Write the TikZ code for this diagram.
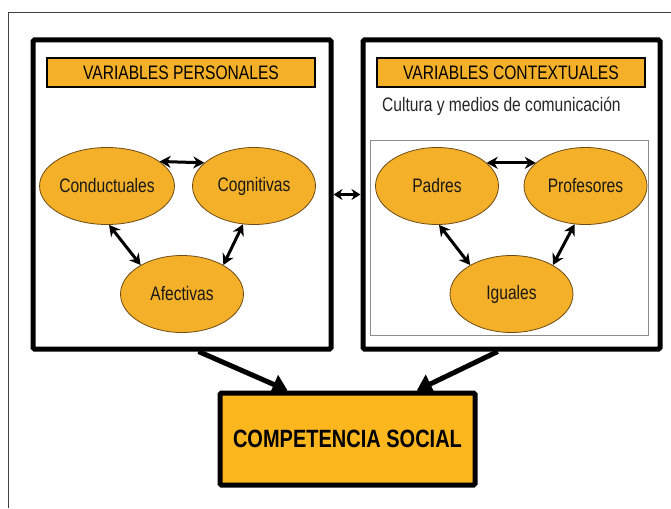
\documentclass[tikz,border=0pt]{standalone}
\usepackage{fontspec}
\setmainfont{Liberation Sans}[FakeStretch=0.8]
\usetikzlibrary{arrows.meta, calc, shapes.geometric}
\definecolor{naranja}{RGB}{244,176,40}
\definecolor{naranjab}{RGB}{252,182,30}
\definecolor{borde}{RGB}{110,75,20}

\tikzset{
  caja/.style={draw, line width=5pt, rounded corners=1.5pt, inner sep=0pt},
  titulo/.style={draw, fill=naranja, line width=2.5pt, minimum width=268pt, minimum height=29pt, inner sep=0pt, font=\fontsize{19.5}{22}\selectfont},
  ovalo/.style={ellipse, draw=borde, line width=0.8pt, fill=naranja, minimum width=123pt, minimum height=77pt, inner sep=0pt, text=black!90, font=\fontsize{19.5}{22}\selectfont},
  flechita/.style={{Stealth[length=11pt,width=12pt]}-{Stealth[length=11pt,width=12pt]}, line width=3pt},
  flecha/.style={-{Triangle[length=15pt,width=20pt]}, line width=5pt}
}

\begin{document}
\begin{tikzpicture}[x=1pt,y=-1pt]
\useasboundingbox (0,0) rectangle (671,508);
\draw[line width=0.8pt, black!75] (8,508) -- (8,12) -- (671,12);

\node[caja, minimum width=298pt, minimum height=309pt] (pers) at (182,194.5) {};
\node[caja, minimum width=297pt, minimum height=309pt] (ctx) at (511.5,194.5) {};
\draw[line width=0.8pt, black!45] (370,140) rectangle (648,335);

\node[titulo] (tpers) at (181,72.5) {VARIABLES PERSONALES};
\node[titulo] (tctx) at (511,72.5) {VARIABLES CONTEXTUALES};
\node[anchor=west, inner sep=0pt, font=\fontsize{19.5}{22}\selectfont, text=black!85] (cult) at (382,106) {Cultura y medios de comunicación};

\node[ovalo] (cond) at (107,186) {Conductuales};
\node[ovalo] (cogn) at (254,186) {Cognitivas};
\node[ovalo] (afec) at (182,294) {Afectivas};
\node[ovalo] (padr) at (437,186) {Padres};
\node[ovalo] (prof) at (585.5,186) {Profesores};
\node[ovalo] (igua) at (511.5,294) {Iguales};

\draw[flechita] (cond.25) -- (cogn.155);
\draw[flechita] (cond.-87) -- (afec.145);
\draw[flechita] (cogn.-106) -- (afec.35);
\draw[flechita] (padr.25) -- (prof.155);
\draw[flechita] (padr.-87) -- (igua.145);
\draw[flechita] (prof.-106) -- (igua.35);
\draw[flechita, {Stealth[length=9pt,width=11pt]}-{Stealth[length=9pt,width=11pt]}] (pers.east) -- (ctx.west);

\node[caja, fill=naranjab, minimum width=255pt, minimum height=92pt, font=\fontsize{25}{28}\selectfont\bfseries] (comp) at (347.5,439) {COMPETENCIA SOCIAL};

\draw[flecha] (pers.-84) -- (comp.141);
\draw[flecha] (ctx.-95) -- (comp.35);
\end{tikzpicture}
\end{document}
